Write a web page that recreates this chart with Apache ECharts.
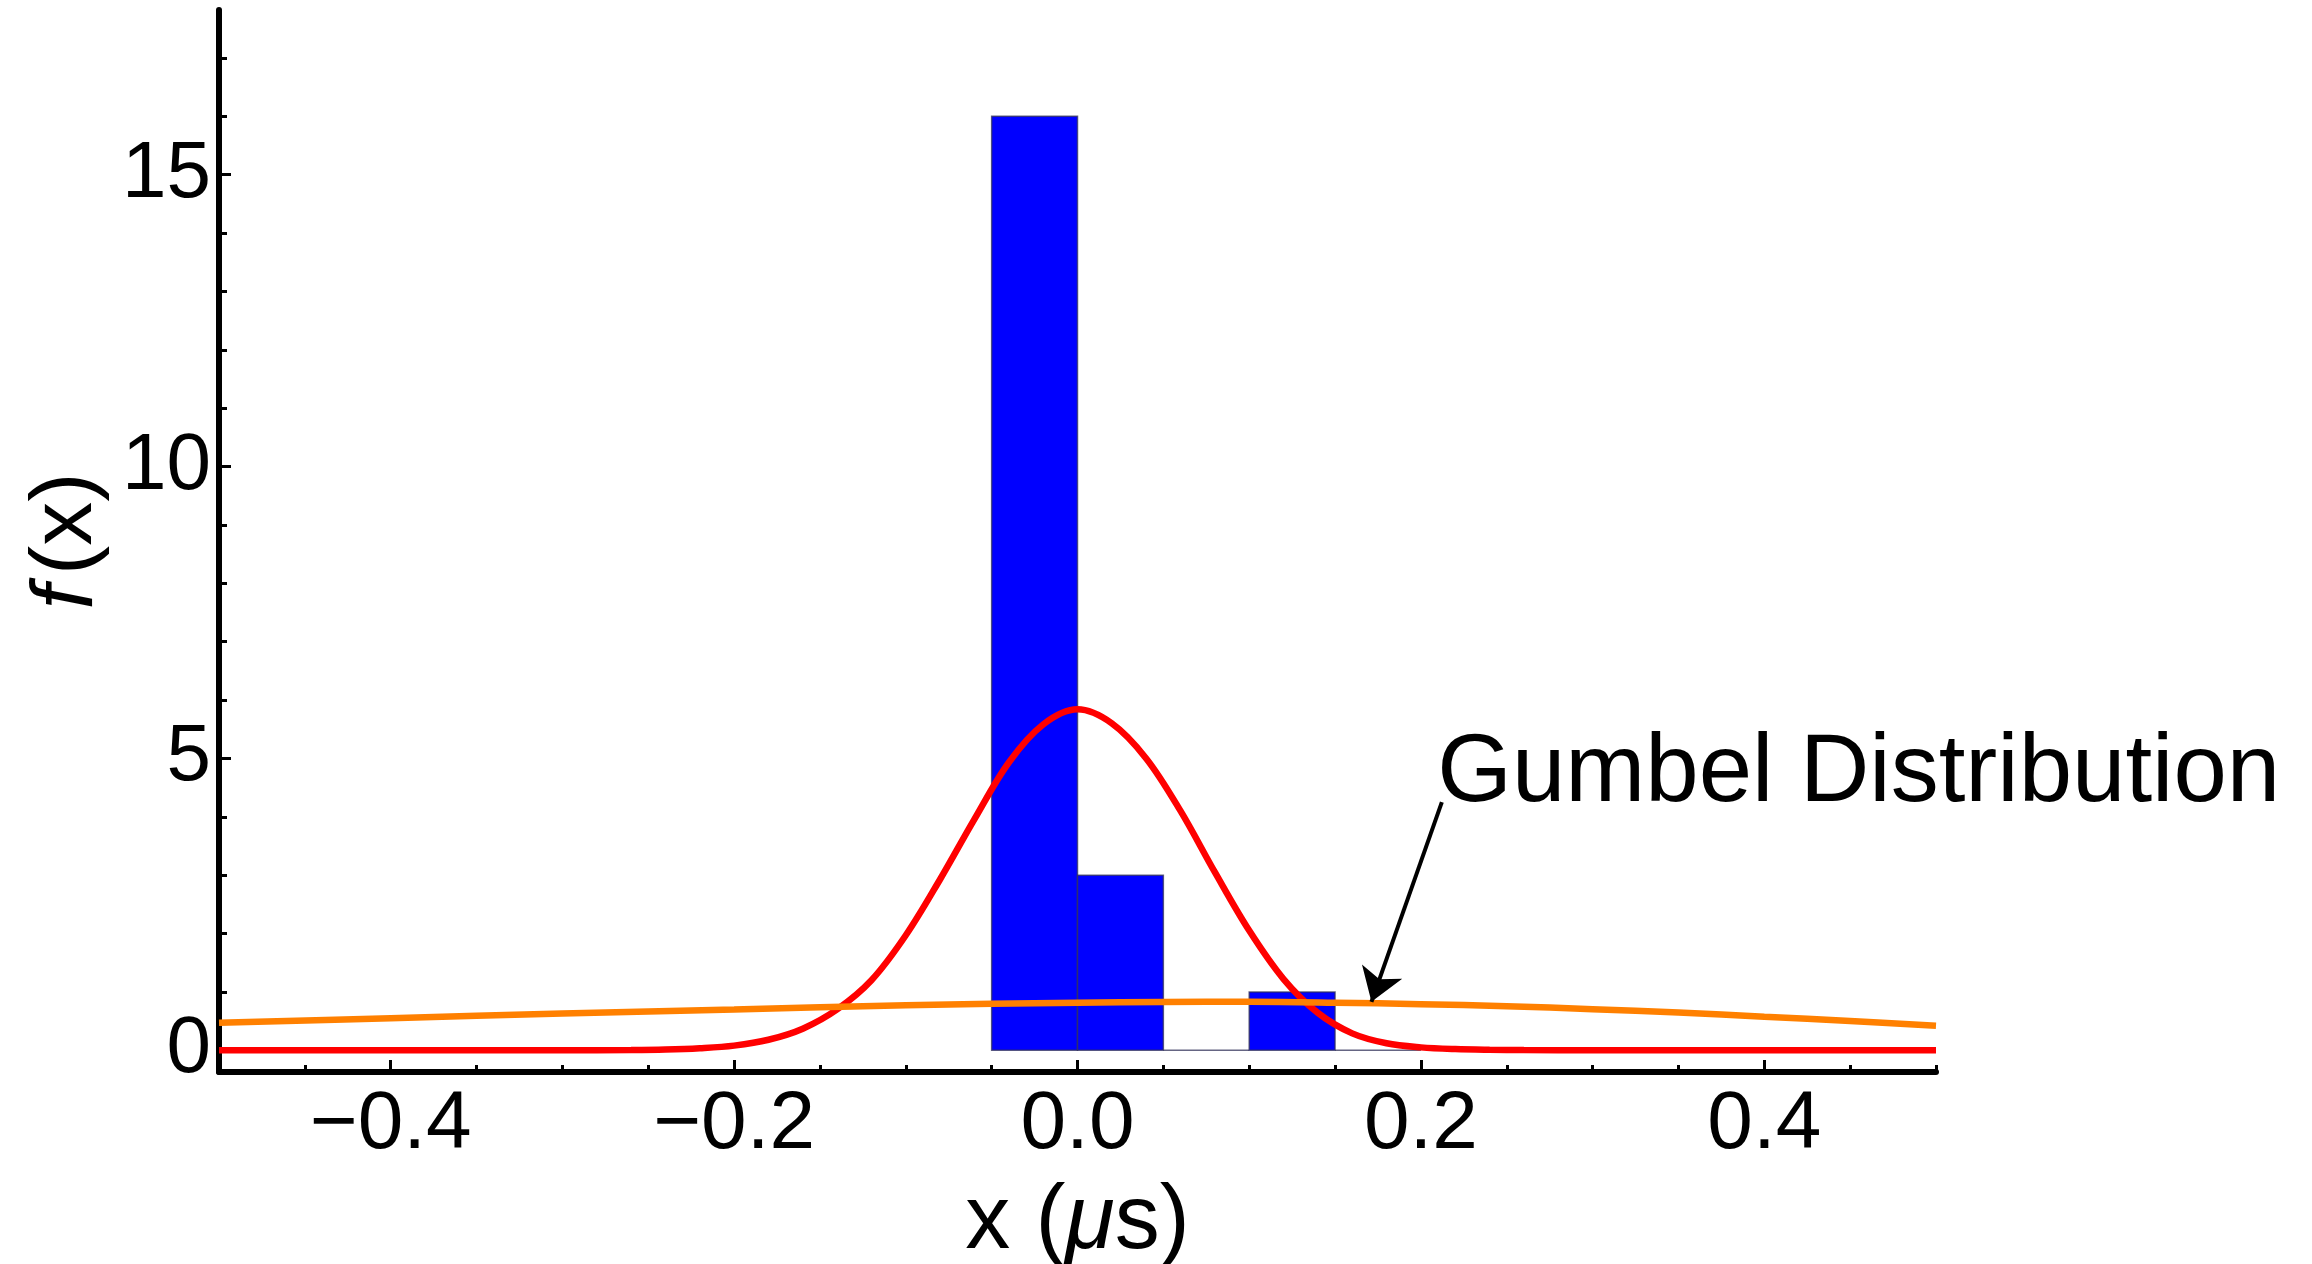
<!DOCTYPE html>
<html>
<head>
<meta charset="utf-8">
<script src="https://cdn.jsdelivr.net/npm/echarts@6/dist/echarts.min.js"></script>
<style>
  html, body { margin: 0; padding: 0; background: #fff; }
  #chart { width: 2312px; height: 1264px; }
</style>
</head>
<body>
<div id="chart"></div>
<script>
// ---- Histogram bins (density) ----
const binStart  = [-0.05, 0.00, 0.05, 0.10, 0.15];
const binEnd    = [ 0.00, 0.05, 0.10, 0.15, 0.20];
const binHeight = [16, 3, 0, 1, 0];

// ---- Red curve (fitted normal) ----
const redX = [-0.5, -0.4, -0.3, -0.26, -0.24, -0.22, -0.2, -0.18, -0.16, -0.14, -0.12, -0.1, -0.08, -0.06, -0.04, -0.02, 0.0, 0.02, 0.04, 0.06, 0.08, 0.1, 0.12, 0.14, 0.16, 0.18, 0.2, 0.22, 0.24, 0.26, 0.3, 0.4, 0.5];
const redY = [0, 0, 0.001, 0.004, 0.012, 0.035, 0.08, 0.18, 0.37, 0.7, 1.2, 1.97, 2.93, 3.96, 4.93, 5.58, 5.84, 5.6, 5.0, 4.1, 3.05, 2.05, 1.22, 0.64, 0.29, 0.12, 0.05, 0.02, 0.008, 0.003, 0.001, 0, 0];

// ---- Orange curve (Gumbel distribution) ----
const gumX = [-0.5, -0.4, -0.3, -0.2, -0.1, 0.0, 0.05, 0.1, 0.15, 0.2, 0.25, 0.3, 0.35, 0.4, 0.45, 0.5];
const gumY = [0.47, 0.55, 0.63, 0.70, 0.77, 0.815, 0.828, 0.83, 0.816, 0.79, 0.755, 0.705, 0.648, 0.575, 0.503, 0.42];

// ---- Axes ----
const xMin = -0.5, xMax = 0.5;
const yMin = -0.372, yMax = 17.82;
const xMajorTicks = [-0.4, -0.2, 0.0, 0.2, 0.4];
const xMinorTicks = [-0.5, -0.45, -0.4, -0.35, -0.3, -0.25, -0.2, -0.15, -0.1, -0.05, 0, 0.05, 0.1, 0.15, 0.2, 0.25, 0.3, 0.35, 0.4, 0.45, 0.5];
const yMajorTicks = [0, 5, 10, 15];
const yMinorTicks = [0, 1, 2, 3, 4, 5, 6, 7, 8, 9, 10, 11, 12, 13, 14, 15, 16, 17];

// ---- Annotation ----
const annText = 'Gumbel Distribution';
const annTextAnchor = [0.2095, 4.72];
const annArrowFrom = [0.2122, 4.25];
const annArrowTo = [0.1712, 0.83];

const FONT = '"Liberation Sans", Arial, Helvetica, sans-serif';

const chart = echarts.init(document.getElementById('chart'), null, { renderer: 'canvas' });

const fmtX = v => {
  const s = Math.abs(v) < 1e-9 ? '0.0' : Math.abs(v).toFixed(1);
  return v < -1e-9 ? '\u2212' + s : s;
};

const axisLineStyle = { color: '#000', width: 6 };

const option = {
  animation: false,
  backgroundColor: '#fff',
  grid: { left: 219, right: 376, top: 10, bottom: 192, containLabel: false, outerBoundsMode: 'none' },
  xAxis: [
    {
      type: 'value', min: xMin, max: xMax, position: 'bottom',
      axisLine: { show: true, onZero: false, lineStyle: axisLineStyle },
      axisTick: { show: true, inside: true, length: 12, lineStyle: { color: '#000', width: 3 }, customValues: xMajorTicks },
      axisLabel: { show: true, customValues: xMajorTicks, formatter: fmtX, fontSize: 82, color: '#000', fontFamily: FONT, margin: 12 },
      splitLine: { show: false },
      name: 'x ({it|\u03bc}s)', nameLocation: 'middle', nameGap: 106,
      nameTextStyle: { fontSize: 90, color: '#000', fontFamily: FONT,
        rich: { it: { fontStyle: 'italic', fontSize: 90, color: '#000', fontFamily: FONT } } }
    },
    {
      type: 'value', min: xMin, max: xMax, position: 'bottom',
      axisLine: { show: false, onZero: false },
      axisTick: { show: true, inside: true, length: 7, lineStyle: { color: '#000', width: 3 }, customValues: xMinorTicks },
      axisLabel: { show: false },
      splitLine: { show: false }
    }
  ],
  yAxis: [
    {
      type: 'value', min: yMin, max: yMax, position: 'left',
      axisLine: { show: true, onZero: false, lineStyle: axisLineStyle },
      axisTick: { show: true, inside: true, length: 12, lineStyle: { color: '#000', width: 3 }, customValues: yMajorTicks },
      axisLabel: { show: true, customValues: yMajorTicks, fontSize: 80, color: '#000', fontFamily: FONT, margin: 8 },
      splitLine: { show: false },
      name: '{it|f}(x)', nameLocation: 'middle', nameRotate: 90, nameGap: 105,
      nameTextStyle: { fontSize: 88, color: '#000', fontFamily: FONT,
        rich: {
          it: { fontStyle: 'italic', fontSize: 88, color: '#000', fontFamily: FONT, padding: [0, 10, 0, 0] }
        } }
    },
    {
      type: 'value', min: yMin, max: yMax, position: 'left',
      axisLine: { show: false, onZero: false },
      axisTick: { show: true, inside: true, length: 8, lineStyle: { color: '#000', width: 3 }, customValues: yMinorTicks },
      axisLabel: { show: false },
      splitLine: { show: false }
    }
  ],
  series: [
    {
      type: 'custom', name: 'hist', xAxisIndex: 0, yAxisIndex: 0, z: 1,
      data: binStart.map((s, i) => [s, binEnd[i], binHeight[i]]),
      encode: { x: [0, 1], y: 2 },
      renderItem: function (params, api) {
        const p0 = api.coord([api.value(0), 0]);
        const p1 = api.coord([api.value(1), api.value(2)]);
        return {
          type: 'rect',
          shape: { x: p0[0], y: p1[1], width: p1[0] - p0[0], height: p0[1] - p1[1] },
          style: { fill: '#0000ff', stroke: 'rgba(50,50,90,0.75)', lineWidth: 1.5 }
        };
      }
    },
    {
      type: 'line', name: 'normal', xAxisIndex: 0, yAxisIndex: 0, z: 3,
      data: redX.map((x, i) => [x, redY[i]]),
      showSymbol: false, symbol: 'none', smooth: 0.35,
      lineStyle: { color: '#ff0000', width: 6.5 }
    },
    {
      type: 'line', name: 'gumbel', xAxisIndex: 0, yAxisIndex: 0, z: 4,
      data: gumX.map((x, i) => [x, gumY[i]]),
      showSymbol: false, symbol: 'none', smooth: 0.4,
      lineStyle: { color: '#ff8000', width: 6.5 },
      markLine: {
        silent: true, animation: false,
        symbol: ['none', 'arrow'], symbolSize: 32,
        itemStyle: { color: '#000' },
        lineStyle: { color: '#000', width: 4, type: 'solid' },
        label: { show: false },
        data: [[ { coord: annArrowFrom }, { coord: annArrowTo } ]]
      }
    }
  ]
};

chart.setOption(option);

const pTxt = chart.convertToPixel({ gridIndex: 0 }, annTextAnchor);
chart.setOption({
  graphic: [{
    type: 'text', x: pTxt[0], y: pTxt[1], z: 10, silent: true,
    style: { text: annText, font: '96px ' + FONT, fill: '#000', align: 'left', verticalAlign: 'middle' }
  }]
});
</script>
</body>
</html>
